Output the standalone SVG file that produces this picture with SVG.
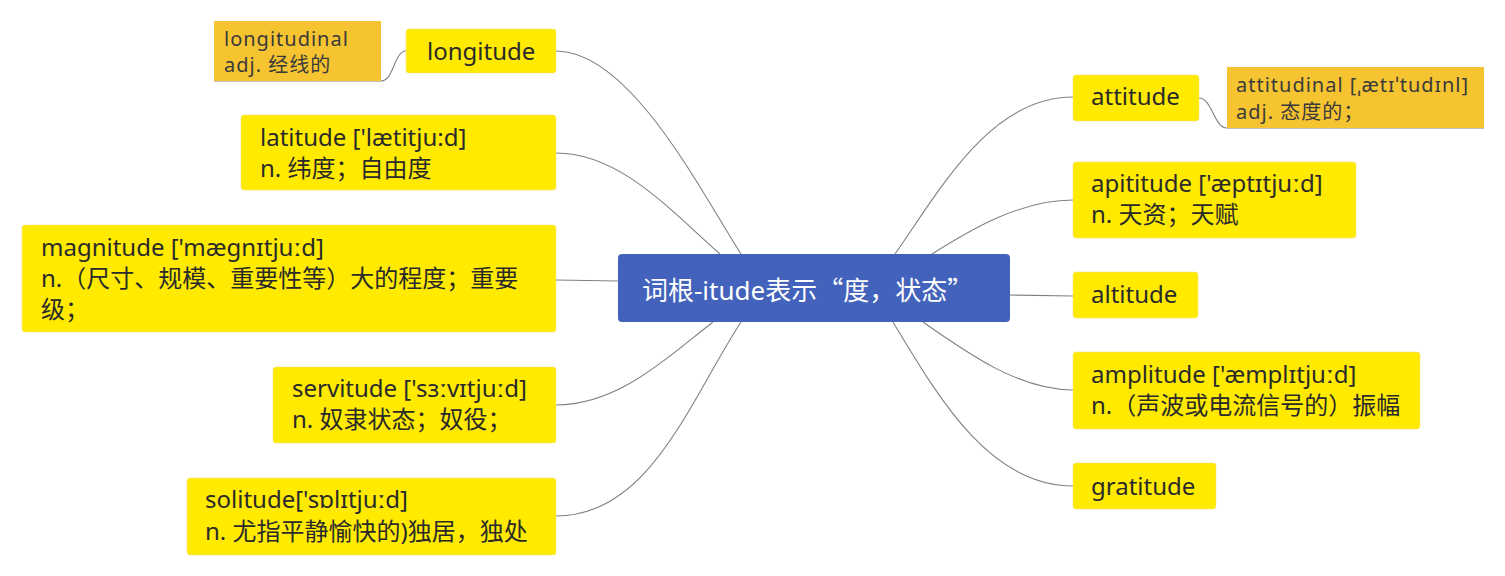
<svg xmlns="http://www.w3.org/2000/svg" width="1505" height="576" viewBox="0 0 1505 576">
<style>
.bg{fill:#ffffff}
.node{fill:#FFEA00;stroke:#F3E27A;stroke-width:0.6}
.note{fill:#F6C431}
.root{fill:#4262BB}
.t{font-family:"Noto Sans","Noto Sans CJK SC",sans-serif;font-size:24px;fill:#2a2a2a}
.tn{font-family:"Noto Sans","Noto Sans CJK SC",sans-serif;font-size:20px;letter-spacing:1px;fill:#3a3a3a}
.tr{font-family:"Noto Sans","Noto Sans CJK SC",sans-serif;font-size:26px;fill:#ffffff}
.q{font-family:"Noto Sans CJK SC",sans-serif}
.c{fill:none;stroke:#808080;stroke-width:1.1}
</style>
<rect class="bg" x="0" y="0" width="1505" height="576"/>
<g id="connectors">
<path class="c" d="M556 51 C630 51 700 190 741 254"/>
<path class="c" d="M556 153 C620 153 670 210 720 254"/>
<path class="c" d="M556 280 L618 281"/>
<path class="c" d="M556 405 C620 405 670 355 713 322"/>
<path class="c" d="M556 516 C650 516 690 400 741 322"/>
<path class="c" d="M1073 97 C990 97 940 190 895 254"/>
<path class="c" d="M1073 200 C1020 200 970 230 932 254"/>
<path class="c" d="M1010 295 L1073 296"/>
<path class="c" d="M1073 390 C1020 390 970 355 923 322"/>
<path class="c" d="M1073 486 C990 486 940 400 893 322"/>
<path class="c" d="M406 51 C394 51 394 81 381 81 L214 81"/>
<path class="c" d="M1199 98 C1212 98 1214 128 1227 128 L1484 128"/>
</g>
<g id="root">
<rect class="root" x="618" y="254" width="392" height="68" rx="4"/>
<text class="tr" x="642" y="300">词根-itude表示<tspan class="q">“</tspan>度，状态<tspan class="q">”</tspan></text>
</g>
<g id="longitude">
<rect class="node" x="406" y="29" width="150" height="44" rx="3"/>
<text class="t" x="427" y="60">longitude</text>
</g>
<g id="longitudinal">
<rect class="note" x="214" y="21" width="167" height="60"/>
<text class="tn" x="224" y="46">longitudinal</text>
<text class="tn" x="224" y="72">adj. 经线的</text>
</g>
<g id="latitude">
<rect class="node" x="241" y="115" width="315" height="75" rx="3"/>
<text class="t" x="260" y="146">latitude ['lætitju:d]</text>
<text class="t" x="260" y="177">n. 纬度；自由度</text>
</g>
<g id="magnitude">
<rect class="node" x="22" y="225" width="534" height="107" rx="3"/>
<text class="t" x="41" y="256">magnitude ['mægnɪtjuːd]</text>
<text class="t" x="41" y="287">n.（尺寸、规模、重要性等）大的程度；重要</text>
<text class="t" x="41" y="318">级；</text>
</g>
<g id="servitude">
<rect class="node" x="273" y="367" width="283" height="76" rx="3"/>
<text class="t" x="292" y="397">servitude ['sɜːvɪtjuːd]</text>
<text class="t" x="292" y="428">n. 奴隶状态；奴役；</text>
</g>
<g id="solitude">
<rect class="node" x="187" y="478" width="369" height="77" rx="3"/>
<text class="t" x="205" y="508">solitude['sɒlɪtjuːd]</text>
<text class="t" x="205" y="540">n. 尤指平静愉快的)独居，独处</text>
</g>
<g id="attitude">
<rect class="node" x="1073" y="75" width="126" height="46" rx="3"/>
<text class="t" x="1091" y="105">attitude</text>
</g>
<g id="attitudinal">
<rect class="note" x="1227" y="67" width="257" height="61"/>
<text class="tn" x="1236" y="92">attitudinal [ˌætɪˈtudɪnl]</text>
<text class="tn" x="1236" y="119">adj. 态度的；</text>
</g>
<g id="apitude">
<rect class="node" x="1073" y="162" width="283" height="76" rx="3"/>
<text class="t" x="1091" y="192">apititude ['æptɪtjuːd]</text>
<text class="t" x="1091" y="223">n. 天资；天赋</text>
</g>
<g id="altitude">
<rect class="node" x="1073" y="272" width="125" height="46" rx="3"/>
<text class="t" x="1091" y="303">altitude</text>
</g>
<g id="amplitude">
<rect class="node" x="1073" y="352" width="347" height="77" rx="3"/>
<text class="t" x="1091" y="383">amplitude ['æmplɪtjuːd]</text>
<text class="t" x="1091" y="414">n.（声波或电流信号的）振幅</text>
</g>
<g id="gratitude">
<rect class="node" x="1073" y="463" width="143" height="46" rx="3"/>
<text class="t" x="1091" y="495">gratitude</text>
</g>
</svg>
